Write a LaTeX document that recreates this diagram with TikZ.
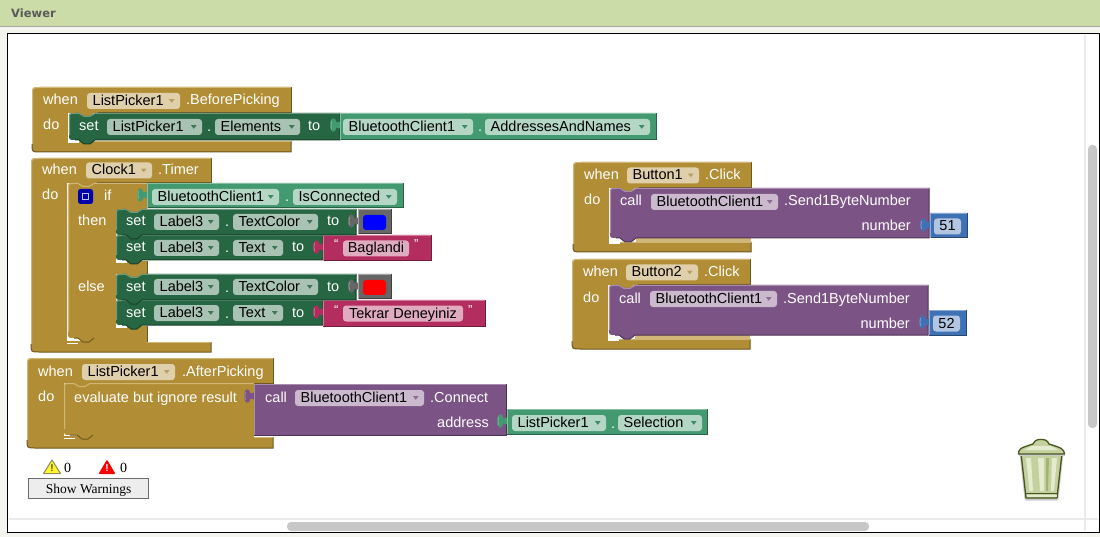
\documentclass[tikz,border=0pt]{standalone}
\usepackage{fontspec}
\setmainfont{Liberation Sans}
\newfontfamily\serifw{Liberation Serif}
\newfontfamily\viewerfont{DejaVu Sans}
\definecolor{cbrown}{HTML}{B18E35}
\definecolor{cbrownL}{HTML}{D0B777}
\definecolor{cbrownD}{HTML}{6E5820}
\definecolor{fbrown}{HTML}{DFCFAA}
\definecolor{tbrown}{HTML}{B89E66}
\definecolor{cset}{HTML}{266643}
\definecolor{csetL}{HTML}{6D9A80}
\definecolor{csetD}{HTML}{173F2A}
\definecolor{fset}{HTML}{A8C2B3}
\definecolor{tset}{HTML}{3E7458}
\definecolor{cval}{HTML}{439970}
\definecolor{cvalL}{HTML}{85BEA2}
\definecolor{cvalD}{HTML}{2A6046}
\definecolor{fval}{HTML}{B3D6C5}
\definecolor{tval}{HTML}{3C8A66}
\definecolor{cpur}{HTML}{7C5385}
\definecolor{cpurL}{HTML}{A88DAE}
\definecolor{cpurD}{HTML}{4D3353}
\definecolor{fpur}{HTML}{CBBACE}
\definecolor{tpur}{HTML}{8C6D93}
\definecolor{cpink}{HTML}{B32D5E}
\definecolor{cpinkL}{HTML}{D17D9C}
\definecolor{cpinkD}{HTML}{701C3B}
\definecolor{fpink}{HTML}{E1ABBF}
\definecolor{cblue}{HTML}{3F71B5}
\definecolor{cblueL}{HTML}{8AA9D3}
\definecolor{cblueD}{HTML}{274671}
\definecolor{fblue}{HTML}{B2C6E1}
\definecolor{cgray}{HTML}{666666}
\definecolor{cgrayL}{HTML}{A3A3A3}
\definecolor{cgrayD}{HTML}{404040}
\definecolor{titlebar}{HTML}{CBDCA8}
\definecolor{pagebg}{HTML}{F5F5EF}
\definecolor{canline}{HTML}{46561E}
\definecolor{canbody}{HTML}{C4D19E}
\definecolor{canlight}{HTML}{E4EBCF}
\definecolor{candark}{HTML}{A3B377}
\newcounter{tn}
\tikzset{
  lbl/.style={inner sep=0pt,anchor=west,text=white,font=\fontsize{14.5}{16}\selectfont},
  lblr/.style={inner sep=0pt,anchor=east,text=white,font=\fontsize{14.5}{16}\selectfont},
  ftxt/.style={inner sep=0pt,anchor=west,text=black,font=\fontsize{14.5}{16}\selectfont},
  ctxt/.style={inner sep=0pt,anchor=center,text=black,font=\fontsize{14.5}{16}\selectfont},
  warnnum/.style={inner sep=0pt,anchor=west,text=black,font=\serifw\fontsize{14}{16}\selectfont},
}
\newcommand{\W}[3]{\stepcounter{tn}\node[lbl] (w\thetn) at (#1,#2+1.8) {\strut #3};}
\newcommand{\R}[3]{\stepcounter{tn}\node[lblr] (w\thetn) at (#1,#2+1.8) {\strut #3};}
\newcommand{\F}[6]{\stepcounter{tn}
  \fill[#4,rounded corners=3pt] (#1,#3-8) rectangle (#2,#3+8);
  \fill[#5] (#2-11,#3-1.8) -- (#2-5.5,#3-1.8) -- (#2-8.25,#3+1.8) -- cycle;
  \node[ftxt] (f\thetn) at (#1+5.5,#3+1.3) {\strut #6};}
\newcommand{\T}[5]{\stepcounter{tn}
  \fill[#4,rounded corners=3pt] (#1,#3-8) rectangle (#2,#3+8);
  \node[ctxt] (f\thetn) at ({(#1+#2)/2},#3+1.3) {\strut #5};}
\newcommand{\Tab}[3]{\fill[#3] (#1+9,#2-1) -- (#1+27,#2-1) -- (#1+21,#2+4) -- (#1+15,#2+4) -- cycle;}
\newcommand{\Sliver}[2]{\fill[white] (#1-.5,#2-8) rectangle (#1+11,#2+1.7);}
\newcommand{\Cblock}[7]{%
  \fill[cbrown] (#1,#2+8) .. controls (#1,#2) and (#1,#2) .. (#1+8,#2) -- (#3,#2) -- (#3,#4) -- (#5,#4)
     -- (#5,#6) -- (#3,#6) -- (#3,#7) -- (#1+8,#7) .. controls (#1,#7) and (#1,#7) .. (#1,#7-8) -- cycle;
  \draw[cbrownD,line width=1pt] (#3,#2) -- (#3,#4) -- (#5+30,#4);
  \draw[cbrownD,line width=1pt] (#3,#6) -- (#3,#7) -- (#1+8,#7) .. controls (#1,#7) and (#1,#7) .. (#1,#7-8);
  \draw[cbrownL,line width=1pt] (#1+.5,#7-8) -- (#1+.5,#2+8) .. controls (#1+.5,#2+.5) and (#1+.5,#2+.5) .. (#1+8,#2+.5) -- (#3,#2+.5);
  \draw[cbrownL,line width=1pt] (#5,#6+.5) -- (#3,#6+.5);
  \Tab{#5}{#4}{cbrown}
  \Sliver{#5}{#6}
}
\newcommand{\Stmt}[7]{%
  \fill[#5] (#1,#2+6) .. controls (#1,#2) and (#1,#2) .. (#1+6,#2) -- (#1+10,#2) -- (#1+15,#2+3) -- (#1+21,#2+3)
    -- (#1+26,#2) -- (#3,#2) -- (#3,#4) -- (#1+26,#4) -- (#1+21,#4+4) -- (#1+15,#4+4) -- (#1+10,#4) -- (#1+6,#4) .. controls (#1,#4) and (#1,#4) .. (#1,#4-6) -- cycle;
  \draw[#7,line width=1pt] (#3,#2) -- (#3,#4) -- (#1+26,#4) -- (#1+21,#4+4) -- (#1+15,#4+4) -- (#1+10,#4) -- (#1+6,#4);
  \draw[#6,line width=1pt] (#1+.5,#4-5) -- (#1+.5,#2+6) .. controls (#1+.5,#2+.5) and (#1+.5,#2+.5) .. (#1+6,#2+.5) -- (#1+10,#2+.5) -- (#1+15,#2+3.5) -- (#1+21,#2+3.5) -- (#1+26,#2+.5) -- (#3,#2+.5);
}
\newcommand{\Val}[7]{%
  \fill[#5] (#1,#2) -- (#3,#2) -- (#3,#4) -- (#1,#4) -- (#1,#2+15.5) -- (#1-3.5,#2+14.5)
     .. controls (#1-4,#2+20.5) and (#1-10.5,#2+20.5) .. (#1-9.5,#2+12)
     .. controls (#1-10.5,#2+3.5) and (#1-4,#2+3.5) .. (#1-3.5,#2+9.5) -- (#1,#2+8.5) -- cycle;
  \draw[#7,line width=1pt] (#3,#2) -- (#3,#4) -- (#1,#4);
  \draw[#6,line width=1pt] (#1+.5,#4) -- (#1+.5,#2+.5) -- (#3,#2+.5);
  \draw[#6,line width=.8pt] (#1-8.6,#2+8) .. controls (#1-9.2,#2+11) and (#1-9.2,#2+13) .. (#1-8.6,#2+16);
}
\newcommand{\Gst}[4]{\Stmt{#1}{#2}{#3}{#4}{cset}{csetL}{csetD}}
\newcommand{\Pst}[4]{\Stmt{#1}{#2}{#3}{#4}{cpur}{cpurL}{cpurD}}
\newcommand{\Gv}[4]{\Val{#1}{#2}{#3}{#4}{cval}{cvalL}{cvalD}}
\newcommand{\Pk}[4]{\Val{#1}{#2}{#3}{#4}{cpink}{cpinkL}{cpinkD}}
\newcommand{\Bl}[4]{\Val{#1}{#2}{#3}{#4}{cblue}{cblueL}{cblueD}}
\newcommand{\Gy}[4]{\Val{#1}{#2}{#3}{#4}{cgray}{cgrayL}{cgrayD}}
\newcommand{\SetRow}[4]{%
  \W{126}{#1+12}{set}
  \F{154}{219}{#1+13}{fset}{tset}{Label3}
  \W{225}{#1+13}{.}
  \F{233}{#3}{#1+13}{fset}{tset}{#2}
  \W{#4}{#1+12}{to}
}
\begin{document}
\begin{tikzpicture}[x=1pt,y=-1pt]
\useasboundingbox (0,0) rectangle (1100,537);
\fill[pagebg] (0,0) rectangle (1100,537);
\fill[titlebar] (0,0) rectangle (1100,26);
\draw[black!35,line width=1pt] (0,26.5) -- (1100,26.5);
\node[inner sep=0pt,anchor=west,text=black!65,font=\viewerfont\bfseries\fontsize{11.5}{14}\selectfont] (viewer) at (11,13.5) {Viewer};
\fill[white] (7.5,33.5) rectangle (1100,532);
\draw[black!8,line width=2pt] (9,519) -- (1098,519);
\draw[black!8,line width=2pt] (1085,35) -- (1085,531);
\fill[black!22,rounded corners=4pt] (287,522) rectangle (869,531);
\fill[black!22,rounded corners=4pt] (1088,145) rectangle (1097,428);
\draw[black,line width=1pt] (7.5,33.5) -- (1099.5,33.5) -- (1099.5,532) -- (7.5,532) -- cycle;

% ===== BeforePicking
\Cblock{32}{87}{291}{113}{68}{141}{152}
\Gst{69}{113}{340}{140}
\Gv{340}{113}{656}{140}
\W{43}{100}{when}
\F{87}{180}{101}{fbrown}{tbrown}{ListPicker1}
\W{186}{100}{.BeforePicking}
\W{43}{125}{do}
\W{79}{126}{set}
\F{107}{202}{127}{fset}{tset}{ListPicker1}
\W{207}{127}{.}
\F{215}{300}{127}{fset}{tset}{Elements}
\W{308}{126}{to}
\F{343}{473}{127}{fval}{tval}{BluetoothClient1}
\W{478}{127}{.}
\F{485}{650}{127}{fval}{tval}{AddressesAndNames}

% ===== Clock timer
\Cblock{31}{158}{211}{183}{67}{342}{352}
\fill[cbrown] (67,340.5) rectangle (147,343);
\fill[cbrown] (84,337) rectangle (147,343);
\fill[cbrown] (68,189) .. controls (68,183) and (68,183) .. (74,183) -- (147,183) -- (147,210) -- (116,210) -- (116,261) -- (147,261) -- (147,274) -- (116,274) -- (116,326) -- (147,326) -- (147,338) -- (94,338) -- (89,342) -- (83,342) -- (78,338) -- (74,338) .. controls (68,338) and (68,338) .. (68,332) -- cycle;
\Tab{68}{183}{cbrown}
\draw[cbrownL,line width=1pt] (68.5,332) -- (68.5,189) .. controls (68.5,183.5) and (68.5,183.5) .. (74,183.5) -- (78,183.5) -- (83,186.5) -- (89,186.5) -- (94,183.5) -- (147,183.5);
\draw[cbrownD,line width=1pt] (147,326) -- (147,342);
\draw[cbrownD,line width=1pt] (94,338) -- (89,342) -- (83,342) -- (78,338) -- (74,338);
\draw[cbrownD,line width=1pt] (147,261) -- (147,274);
\Gv{147}{183}{403}{208}
\fill[blue!67!black,rounded corners=2.5pt] (78,189) rectangle (93,204);
\draw[white!75!blue,line width=1pt] (82.5,193.5) rectangle (88.5,199.5);
\W{104}{196}{if}
\W{42}{170}{when}
\F{86}{152}{170.5}{fbrown}{tbrown}{Clock1}
\W{158}{170}{.Timer}
\W{42}{195}{do}
\W{78}{221}{then}
\W{78}{286}{else}
\F{152}{279}{197}{fval}{tval}{BluetoothClient1}
\W{285}{197}{.}
\F{293}{397}{197}{fval}{tval}{IsConnected}

% then rows
\Tab{116}{209}{cbrown}
\Sliver{116}{261}
\Gst{116}{235}{323}{260}
\Pk{323}{235}{431}{261}
\Gst{116}{209}{356}{235}
\Gy{358}{209}{391}{234}
\fill[blue,rounded corners=3pt] (363,215) rectangle (386,230);
\SetRow{209}{TextColor}{318}{327}
\SetRow{235}{Text}{283}{292}
\W{334}{244}{\fontsize{13}{14}\selectfont “}
\T{343}{409}{248.5}{fpink}{Baglandi}
\W{414}{244}{\fontsize{13}{14}\selectfont ”}

% else rows
\Tab{116}{274}{cbrown}
\Sliver{116}{326}
\Gst{116}{300}{323}{325}
\Pk{323}{300}{485}{326}
\Gst{116}{274}{356}{300}
\Gy{358}{274}{391}{299}
\fill[red,rounded corners=3pt] (363,280) rectangle (386,295);
\SetRow{274}{TextColor}{318}{327}
\SetRow{300}{Text}{283}{292}
\W{334}{309}{\fontsize{13}{14}\selectfont “}
\T{343}{463}{313.5}{fpink}{Tekrar Deneyiniz}
\W{468}{309}{\fontsize{13}{14}\selectfont ”}

% ===== Button1
\Cblock{573}{162}{751}{188}{609}{242}{252}
\fill[cbrownL] (636,238) rectangle (751,242);
\Pst{610}{188}{929}{238}
\Bl{930}{213}{967}{238}
\W{584}{175}{when}
\F{627}{699}{175.5}{fbrown}{tbrown}{Button1}
\W{705}{175}{.Click}
\W{584}{200}{do}
\W{620}{201}{call}
\F{651}{778}{202}{fpur}{tpur}{BluetoothClient1}
\W{784}{201}{.Send1ByteNumber}
\R{911}{226}{number}
\T{934}{961}{226.5}{fblue}{51}

% ===== Button2
\Cblock{572}{259}{750}{285}{608}{339}{349}
\fill[cbrownL] (635,335) rectangle (750,339);
\Pst{609}{285}{928}{335}
\Bl{929}{310}{966}{335}
\W{583}{272}{when}
\F{626}{698}{272.5}{fbrown}{tbrown}{Button2}
\W{704}{272}{.Click}
\W{583}{297}{do}
\W{619}{298}{call}
\F{650}{777}{299}{fpur}{tpur}{BluetoothClient1}
\W{783}{298}{.Send1ByteNumber}
\R{910}{323}{number}
\T{933}{960}{323.5}{fblue}{52}

% ===== AfterPicking
\Cblock{27}{358}{273}{383}{64}{437}{448}
\fill[cbrown] (64,436) rectangle (254,438);
\fill[cbrown] (90,434) rectangle (254,438);
\fill[cbrown] (64,389) .. controls (64,383) and (64,383) .. (70,383) -- (254,383) -- (254,435) -- (93,435) -- (88,439) -- (82,439) -- (77,435) -- (70,435) .. controls (64,435) and (64,435) .. (64,429) -- cycle;
\Tab{64}{383}{cbrown}
\draw[cbrownL,line width=1pt] (64.5,429) -- (64.5,389) .. controls (64.5,383.5) and (64.5,383.5) .. (70,383.5) -- (74,383.5) -- (79,386.5) -- (85,386.5) -- (90,383.5) -- (254,383.5);
\draw[cbrownD,line width=1pt] (93,435) -- (88,439) -- (82,439) -- (77,435) -- (70,435);
\Val{254}{384}{506}{435}{cpur}{cpurL}{cpurD}
\Gv{507}{409}{707}{434}
\W{38}{371}{when}
\F{82}{175}{372}{fbrown}{tbrown}{ListPicker1}
\W{182}{371}{.AfterPicking}
\W{38}{396}{do}
\W{74}{397}{evaluate but ignore result}
\W{265}{397}{call}
\F{295}{424}{398}{fpur}{tpur}{BluetoothClient1}
\W{430}{397}{.Connect}
\R{489}{422}{address}
\F{512}{606}{423}{fval}{tval}{ListPicker1}
\W{611}{423}{.}
\F{618}{702}{423}{fval}{tval}{Selection}

% ===== Warnings
\draw[black!50!yellow!70!gray,fill=yellow!85!white,line width=1pt,line join=round] (52,460) -- (60.5,473.5) -- (43.5,473.5) -- cycle;
\node[inner sep=0pt,text=black!70,font=\bfseries\fontsize{10}{10}\selectfont] (warnmark) at (52,468) {!};
\node[warnnum] (warnzero) at (64,468) {0};
\fill[red,rounded corners=1pt] (107,459.5) -- (115.5,474) -- (98.5,474) -- cycle;
\node[inner sep=0pt,text=white,font=\bfseries\fontsize{10}{10}\selectfont] (errmark) at (107,468) {!};
\node[warnnum] (errzero) at (120,468) {0};
\node[draw=black!58,line width=1.3pt,fill=black!7,minimum width=120pt,minimum height=20pt,inner sep=0pt,text height=11pt,text depth=2pt,text=black,font=\serifw\fontsize{13.5}{14}\selectfont] (showwarn) at (88.7,488.5) {Show Warnings};

% ===== Trash can
\draw[black!20,line width=3pt,line join=round] (1021,453) -- (1026,499) -- (1057,499) -- (1062,453) -- cycle;
\draw[canline,line width=1.3pt,fill=canbody,line join=round] (1021,453) -- (1026,498) -- (1057,498) -- (1062,453) -- cycle;
\fill[canlight] (1026,458) -- (1031,458) -- (1033,491) -- (1029.5,491) -- cycle;
\fill[canlight] (1038,458) -- (1044,458) -- (1044,491) -- (1040,491) -- cycle;
\fill[candark] (1046,458) -- (1049,458) -- (1048,491) -- (1046,491) -- cycle;
\fill[canlight] (1052,458) -- (1057,458) -- (1054,491) -- (1051,491) -- cycle;
\draw[canline,line width=1pt] (1026,493.5) -- (1057,493.5);
\fill[canlight] (1026.5,494.5) rectangle (1056.5,497);
\draw[black!20,line width=2.5pt,line join=round] (1018.5,454.5) -- (1064.5,454.5);
\draw[canline,line width=1.3pt,fill=canbody,line join=round] (1018.5,454) .. controls (1018.5,449) and (1020,448) .. (1033,444) .. controls (1035,440) and (1037,439.5) .. (1041,439.5) .. controls (1045,439.5) and (1047,440) .. (1049,444) .. controls (1062,448) and (1064,449) .. (1064.5,454) -- cycle;
\fill[canlight] (1024,450) -- (1058,450) -- (1050,446) -- (1032,446) -- cycle;
\end{tikzpicture}
\end{document}
